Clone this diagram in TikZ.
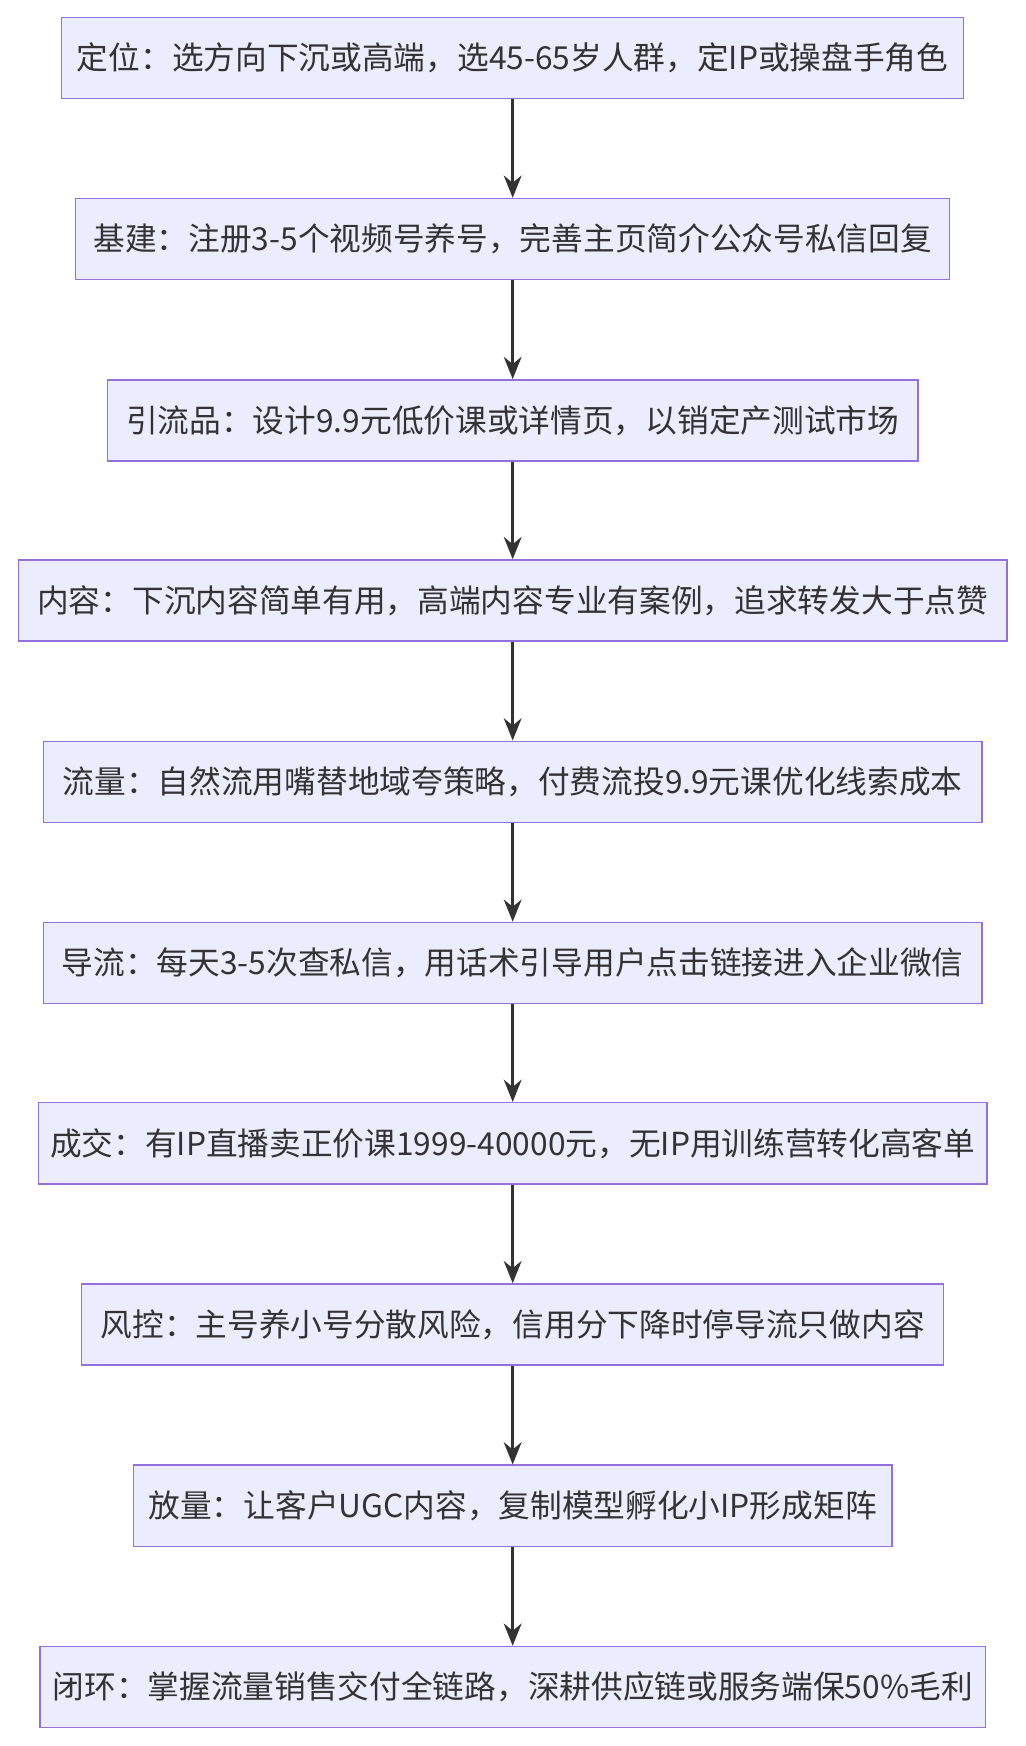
\documentclass[tikz,border=0pt]{standalone}
\usepackage{fontspec}
\setmainfont{Noto Sans CJK SC}
\usetikzlibrary{arrows.meta}
\definecolor{boxfill}{HTML}{ECECFF}
\definecolor{boxline}{HTML}{9370DB}
\definecolor{arr}{HTML}{333333}
\begin{document}
\begin{tikzpicture}[x=1pt,y=-1pt,
  stepbox/.style={draw=boxline,line width=1.3pt,fill=boxfill,minimum height=73pt,inner sep=0pt,font=\fontsize{28.5}{32}\selectfont,text=arr},
  conn/.style={draw=arr,line width=2.5pt,-{Stealth[length=20pt,width=16pt]}}]
\useasboundingbox (0,0) rectangle (922,1570);
\node[stepbox,minimum width=811pt] (n1) at (461,52) {定位：选方向下沉或高端，选45-65岁人群，定IP或操盘手角色};
\node[stepbox,minimum width=786pt] (n2) at (461,215) {基建：注册3-5个视频号养号，完善主页简介公众号私信回复};
\node[stepbox,minimum width=729pt] (n3) at (461,378) {引流品：设计9.9元低价课或详情页，以销定产测试市场};
\node[stepbox,minimum width=889pt] (n4) at (461,540) {内容：下沉内容简单有用，高端内容专业有案例，追求转发大于点赞};
\node[stepbox,minimum width=844pt] (n5) at (461,703) {流量：自然流用嘴替地域夸策略，付费流投9.9元课优化线索成本};
\node[stepbox,minimum width=844pt] (n6) at (461,866) {导流：每天3-5次查私信，用话术引导用户点击链接进入企业微信};
\node[stepbox,minimum width=853pt] (n7) at (461,1028) {成交：有IP直播卖正价课1999-40000元，无IP用训练营转化高客单};
\node[stepbox,minimum width=775pt] (n8) at (461,1191) {风控：主号养小号分散风险，信用分下降时停导流只做内容};
\node[stepbox,minimum width=682pt] (n9) at (461,1354) {放量：让客户UGC内容，复制模型孵化小IP形成矩阵};
\node[stepbox,minimum width=850pt] (n10) at (461,1517) {闭环：掌握流量销售交付全链路，深耕供应链或服务端保50\%毛利};
\foreach \a/\b in {n1/n2,n2/n3,n3/n4,n4/n5,n5/n6,n6/n7,n7/n8,n8/n9,n9/n10}
  \draw[conn] (\a) -- (\b);
\end{tikzpicture}
\end{document}
